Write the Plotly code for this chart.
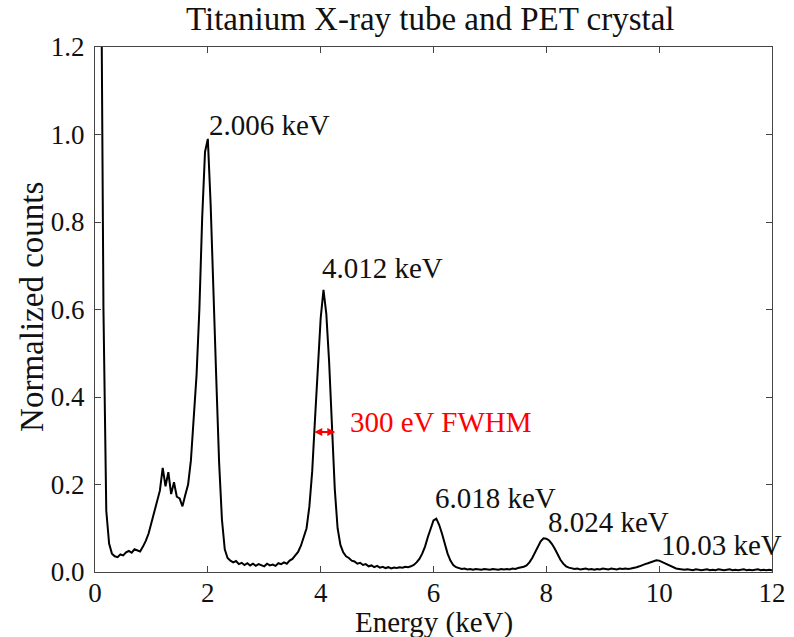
import numpy as np
import plotly.graph_objects as go

# Energy grid (keV) and normalized counts
energy = np.round(np.arange(0.10, 12.0001, 0.05), 2)
counts = [
    1.60, 0.60, 0.14, 0.065, 0.042, 0.036, 0.034, 0.040, 0.038, 0.045,   # 0.10-0.55
    0.048, 0.044, 0.052, 0.049, 0.047, 0.058, 0.071, 0.088, 0.112, 0.138, # 0.60-1.05
    0.158, 0.186, 0.238, 0.196, 0.228, 0.178, 0.205, 0.172, 0.168, 0.150, # 1.10-1.55
    0.176, 0.200, 0.255, 0.350, 0.450, 0.600, 0.810, 0.960, 0.990, 0.840, # 1.60-2.05
    0.620, 0.440, 0.250, 0.120, 0.052, 0.032, 0.026, 0.022, 0.025, 0.018, # 2.10-2.55
    0.021, 0.016, 0.020, 0.015, 0.019, 0.014, 0.018, 0.016, 0.013, 0.019, # 2.60-3.05
    0.015, 0.017, 0.014, 0.020, 0.018, 0.022, 0.019, 0.026, 0.030, 0.038, # 3.10-3.55
    0.046, 0.060, 0.078, 0.100, 0.150, 0.230, 0.350, 0.470, 0.580, 0.645, # 3.60-4.05
    0.590, 0.480, 0.340, 0.190, 0.100, 0.062, 0.045, 0.036, 0.032, 0.026, # 4.10-4.55
    0.024, 0.019, 0.021, 0.016, 0.018, 0.013, 0.015, 0.011, 0.014, 0.010, # 4.60-5.05
    0.012, 0.009, 0.011, 0.008, 0.010, 0.009, 0.011, 0.010, 0.012, 0.011, # 5.10-5.55
    0.013, 0.016, 0.022, 0.030, 0.042, 0.058, 0.080, 0.100, 0.118, 0.122, # 5.60-6.05
    0.108, 0.088, 0.064, 0.042, 0.026, 0.016, 0.011, 0.009, 0.007, 0.008, # 6.10-6.55
    0.006, 0.007, 0.005, 0.007, 0.006, 0.005, 0.007, 0.006, 0.005, 0.007, # 6.60-7.05
    0.006, 0.005, 0.007, 0.006, 0.007, 0.006, 0.008, 0.007, 0.009, 0.010, # 7.10-7.55
    0.012, 0.015, 0.022, 0.032, 0.045, 0.058, 0.070, 0.077, 0.076, 0.072, # 7.60-8.05
    0.064, 0.053, 0.040, 0.028, 0.019, 0.013, 0.010, 0.008, 0.007, 0.008, # 8.10-8.55
    0.006, 0.007, 0.008, 0.006, 0.007, 0.005, 0.007, 0.006, 0.008, 0.007, # 8.60-9.05
    0.006, 0.008, 0.007, 0.006, 0.008, 0.007, 0.008, 0.007, 0.008, 0.009, # 9.10-9.55
    0.011, 0.013, 0.016, 0.018, 0.020, 0.022, 0.025, 0.027, 0.026, 0.023, # 9.60-10.05
    0.020, 0.016, 0.013, 0.010, 0.008, 0.007, 0.006, 0.005, 0.006, 0.005, # 10.10-10.55
    0.004, 0.006, 0.005, 0.004, 0.005, 0.006, 0.004, 0.005, 0.004, 0.006, # 10.60-11.05
    0.005, 0.004, 0.005, 0.006, 0.004, 0.005, 0.004, 0.005, 0.006, 0.004, # 11.10-11.55
    0.005, 0.004, 0.005, 0.006, 0.004, 0.005, 0.004, 0.005, 0.004,        # 11.60-12.00
]

peak_labels = ["2.006 keV", "4.012 keV", "6.018 keV", "8.024 keV", "10.03 keV"]
label_x = [1.99, 3.99, 5.99, 8.0, 10.0]
label_y = [1.022, 0.695, 0.17, 0.114, 0.062]

fwhm_text = "300 eV FWHM"
fwhm_start, fwhm_end, fwhm_y = 3.86, 4.26, 0.32
fwhm_text_x, fwhm_text_y = 4.49, 0.343

x_ticks = [0, 2, 4, 6, 8, 10, 12]
y_ticks = [0.0, 0.2, 0.4, 0.6, 0.8, 1.0, 1.2]

title_text = "Titanium X-ray tube and PET crystal"
x_title = "Energy (keV)"
y_title = "Normalized counts"

FONT = "Liberation Serif"
TXT = "#111"

fig = go.Figure()
fig.add_trace(go.Scatter(x=energy, y=counts[:len(energy)], mode="lines",
                         line=dict(color="black", width=2), showlegend=False))

for t, x, y in zip(peak_labels, label_x, label_y):
    fig.add_annotation(x=x, y=y, text=t, showarrow=False, xanchor="left",
                       yanchor="middle", font=dict(family=FONT, size=29, color=TXT))

fig.add_annotation(x=fwhm_end, y=fwhm_y, ax=fwhm_start, ay=fwhm_y, axref="x", ayref="y",
                   xref="x", yref="y", text="", showarrow=True, arrowhead=2,
                   arrowside="end+start", arrowsize=0.8, arrowwidth=2, arrowcolor="red")
fig.add_annotation(x=fwhm_text_x, y=fwhm_text_y, text=fwhm_text, showarrow=False,
                   xanchor="left", yanchor="middle", font=dict(family=FONT, size=29, color="red"))

# title and axis titles placed relative to the plot frame
fig.add_annotation(xref="paper", yref="paper", x=0.495, y=1, yshift=28, text=title_text,
                   showarrow=False, xanchor="center", yanchor="middle",
                   font=dict(family=FONT, size=33, color=TXT))
fig.add_annotation(xref="paper", yref="paper", x=0.5, y=0, yshift=-50, text=x_title,
                   showarrow=False, xanchor="center", yanchor="middle",
                   font=dict(family=FONT, size=29, color=TXT))
fig.add_annotation(xref="paper", yref="paper", x=0, y=0.505, xshift=-63, text=y_title,
                   showarrow=False, xanchor="center", yanchor="middle", textangle=-90,
                   font=dict(family=FONT, size=33, color=TXT))

axis_common = dict(showline=True, mirror="ticks", linecolor="#444", linewidth=1.2,
                   ticks="inside", ticklen=6, tickcolor="#444", showgrid=False,
                   zeroline=False, automargin=False,
                   tickfont=dict(family=FONT, size=27, color=TXT))

fig.update_xaxes(range=[0, 12], tickvals=x_ticks, ticktext=[str(v) for v in x_ticks],
                 ticklabelstandoff=-4, **axis_common)
fig.update_yaxes(range=[0, 1.2], tickvals=y_ticks, ticktext=[f"{v:.1f}" for v in y_ticks],
                 ticklabelstandoff=4, **axis_common)

fig.update_layout(
    width=794, height=637,
    margin=dict(l=95, r=22, t=47, b=65, autoexpand=False),
    paper_bgcolor="white", plot_bgcolor="white",
)

fig.write_html("out.html", config={"displayModeBar": False},
               post_script="document.body.style.margin='0';document.body.style.overflow='hidden';")
